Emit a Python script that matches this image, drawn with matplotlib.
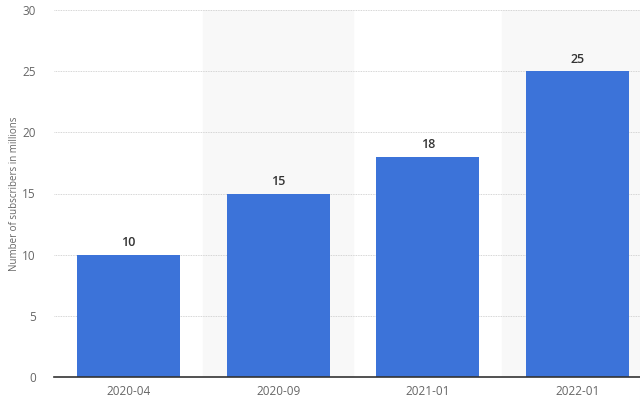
import matplotlib.pyplot as plt

plt.rcParams['font.family'] = ['Open Sans', 'DejaVu Sans']

categories = ['2020-04', '2020-09', '2021-01', '2022-01']
subscribers = [10, 15, 18, 25]
y_ticks = [0, 5, 10, 15, 20, 25, 30]

fig = plt.figure(figsize=(6.4, 4.0), dpi=100)
ax = fig.add_axes([0.084, 0.0575, 0.916, 0.9175])

x = list(range(len(categories)))

# alternating shaded bands behind every second category
for i in x:
    if i % 2 == 1:
        ax.axvspan(i - 0.5, i + 0.5, color='#f8f8f8', zorder=0)

ax.bar(x, subscribers, width=0.69, color='#3c73d9', zorder=3)

for xi, v in zip(x, subscribers):
    ax.text(xi, v + 0.45, str(v), ha='center', va='bottom',
            fontsize=9, color='#333333', fontweight='semibold')

ax.set_xlim(-0.5, -0.5 + 586 / 149.5)
ax.set_ylim(0, 30)
ax.set_yticks(y_ticks)
ax.set_xticks(x)
ax.set_xticklabels(categories)
ax.tick_params(axis='both', length=0, labelsize=8.5, colors='#666666')
ax.tick_params(axis='y', pad=13)
ax.tick_params(axis='x', pad=6)
ax.grid(axis='y', color='#c8c8c8', linestyle=(0, (1, 1)), linewidth=0.6, zorder=1)

for s in ['top', 'right', 'left']:
    ax.spines[s].set_visible(False)
ax.spines['bottom'].set_color('#333333')
ax.spines['bottom'].set_linewidth(1.2)
ax.spines['bottom'].set_zorder(4)

ax.set_ylabel('Number of subscribers in millions', fontsize=7, color='#666666')
ax.yaxis.set_label_coords(-0.058, 0.5)

fig.savefig('out.png', dpi=100)
